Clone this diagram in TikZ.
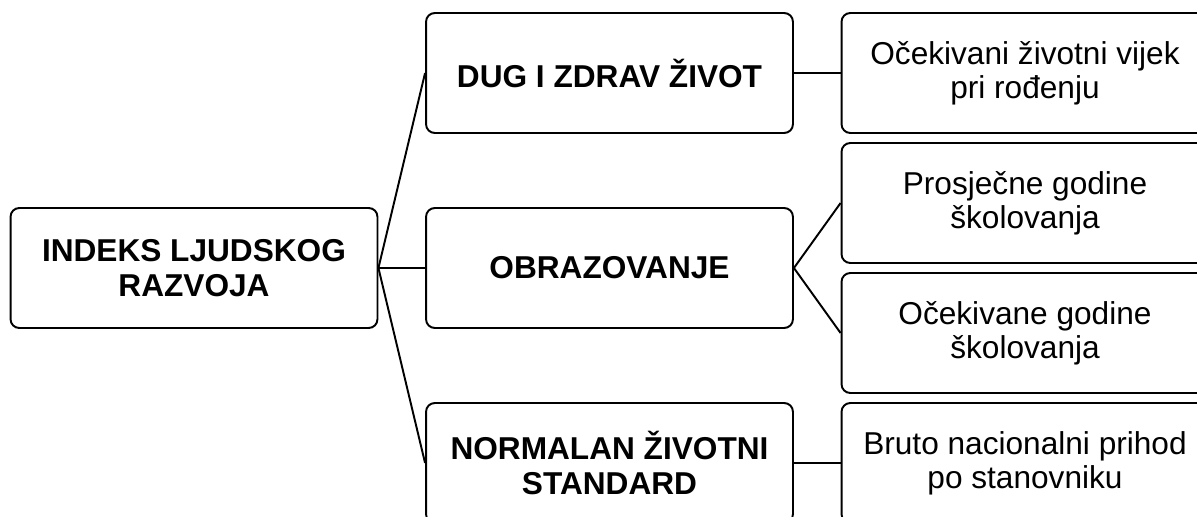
\documentclass[tikz,border=0pt]{standalone}
\usepackage{fontspec}
\setmainfont{Liberation Sans}
\usepackage{tikz}
\begin{document}
\begin{tikzpicture}[x=.02cm,y=-.02cm,
    box/.style={draw,line width=1.1pt,rounded corners=5pt,minimum width=7.34cm,minimum height=2.4cm,
      align=center,inner sep=0pt,font=\fontsize{18}{19.5}\selectfont},
    mainbox/.style={box,font=\fontsize{18}{19.5}\selectfont\bfseries},
    link/.style={line width=1.1pt}]
      \useasboundingbox (0,0) rectangle (1197,517);
      \clip (0,0) rectangle (1197,517);
      \node[mainbox] (hdi) at (194,268) {INDEKS LJUDSKOG\\RAZVOJA};
      \node[mainbox] (life) at (609.5,73) {DUG I ZDRAV ŽIVOT};
      \node[mainbox] (edu) at (609.5,268) {OBRAZOVANJE};
      \node[mainbox] (std) at (609.5,463) {NORMALAN ŽIVOTNI\\STANDARD};
      \node[box] (lifeexp) at (1025,73) {Očekivani životni vijek\\pri rođenju};
      \node[box] (meanyrs) at (1025,203) {Prosječne godine\\školovanja};
      \node[box] (expyrs) at (1025,333) {Očekivane godine\\školovanja};
      \node[box] (gni) at (1025,463) {Bruto nacionalni prihod\\po stanovniku};
      \draw[link] (hdi.east) -- (life.west);
      \draw[link] (hdi.east) -- (edu.west);
      \draw[link] (hdi.east) -- (std.west);
      \draw[link] (life.east) -- (lifeexp.west);
      \draw[link] (edu.east) -- (meanyrs.west);
      \draw[link] (edu.east) -- (expyrs.west);
      \draw[link] (std.east) -- (gni.west);
    \end{tikzpicture}
\end{document}
